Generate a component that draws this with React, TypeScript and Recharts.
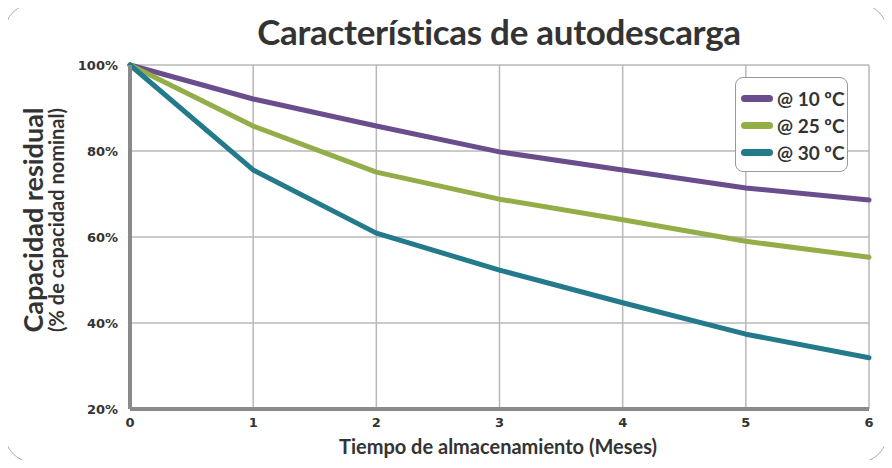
import React from 'react';
import { LineChart, Line, XAxis, YAxis, CartesianGrid } from 'recharts';

const months = [0, 1, 2, 3, 4, 5, 6];
const temp10 = [100, 92.1, 85.8, 79.8, 75.6, 71.4, 68.6];
const temp25 = [100, 85.8, 75.1, 68.8, 64.0, 59.0, 55.3];
const temp30 = [100, 75.6, 60.9, 52.3, 44.7, 37.4, 31.9];
const yTicks = [20, 40, 60, 80, 100];

const series = [
  { key: 't10', name: '@ 10 ºC', color: '#6a4d8c', values: temp10 },
  { key: 't25', name: '@ 25 ºC', color: '#93ae48', values: temp25 },
  { key: 't30', name: '@ 30 ºC', color: '#227a8a', values: temp30 },
];

const data = months.map((m, i) => {
  const row: { [k: string]: number } = { month: m };
  series.forEach(s => { row[s.key] = s.values[i]; });
  return row;
});

const tickFont = { fontFamily: 'DejaVu Sans', fontWeight: 'bold', fontSize: 13, fill: '#333' };

function LegendBox() {
  return (
    <div style={{
      position: 'absolute', left: 735, top: 77, width: 113, height: 95, boxSizing: 'border-box',
      background: '#fff', border: '1.5px solid #999', borderRadius: 8,
      padding: '7px 0 0 5px', fontFamily: 'Lato, sans-serif', fontWeight: 'bold',
      fontSize: 19, color: '#333', lineHeight: '27px',
    }}>
      {series.map(s => (
        <div key={s.key} style={{ display: 'flex', alignItems: 'center' }}>
          <span style={{ display: 'inline-block', width: 32, height: 7, borderRadius: 4, background: s.color, marginRight: 4 }} />
          {s.name}
        </div>
      ))}
    </div>
  );
}

export default function App() {
  return (
    <div style={{ position: 'relative', width: 892, height: 468, margin: -8, background: '#fff', overflow: 'hidden' }}>
      <div style={{
        position: 'absolute', left: 4, top: 3, width: 882, height: 458,
        border: '1.5px solid #aaa', borderRadius: 30,
      }} />
      <div style={{
        position: 'absolute', left: 0, width: 998, top: 10, textAlign: 'center',
        fontFamily: 'Lato, sans-serif', fontWeight: 'bold', fontSize: 35, color: '#333',
        letterSpacing: -0.3,
      }}>
        Características de autodescarga
      </div>
      <div style={{ position: 'absolute', left: 0, top: 0 }}>
        <LineChart width={892} height={468} data={data} margin={{ top: 65, right: 23, bottom: 0, left: 0 }}>
          <CartesianGrid stroke="#b8b8b8" strokeWidth={1.5} />
          <XAxis
            dataKey="month" type="number" domain={[0, 6]} ticks={months}
            height={59} tickLine={false} tickMargin={3}
            axisLine={{ stroke: '#8a8a8a', strokeWidth: 4 }} tick={tickFont}
          />
          <YAxis
            type="number" domain={[20, 100]} ticks={yTicks} width={130}
            tickLine={false} tickMargin={6} tickFormatter={v => `${v}%`}
            axisLine={{ stroke: '#8a8a8a', strokeWidth: 4 }} tick={tickFont}
          />
          {series.map(s => (
            <Line
              key={s.key} type="linear" dataKey={s.key} name={s.name}
              stroke={s.color} strokeWidth={5} strokeLinecap="round" strokeLinejoin="round" dot={false}
              isAnimationActive={false}
            />
          ))}
        </LineChart>
      </div>
      <div style={{ position: 'absolute', left: 42, top: 220, width: 0, height: 0 }}>
        <div style={{
          position: 'absolute', transform: 'translate(-50%, -50%) rotate(-90deg)',
          whiteSpace: 'nowrap', textAlign: 'center', fontFamily: 'Lato, sans-serif',
          fontWeight: 'bold', color: '#333',
        }}>
          <div style={{ fontSize: 27, lineHeight: '28px' }}>Capacidad residual</div>
          <div style={{ fontSize: 20, lineHeight: '18px' }}>(% de capacidad nominal)</div>
        </div>
      </div>
      <div style={{
        position: 'absolute', left: 0, width: 996, top: 434, textAlign: 'center',
        fontFamily: 'Lato, sans-serif', fontWeight: 'bold', fontSize: 20, color: '#333',
      }}>
        Tiempo de almacenamiento (Meses)
      </div>
      <LegendBox />
    </div>
  );
}
